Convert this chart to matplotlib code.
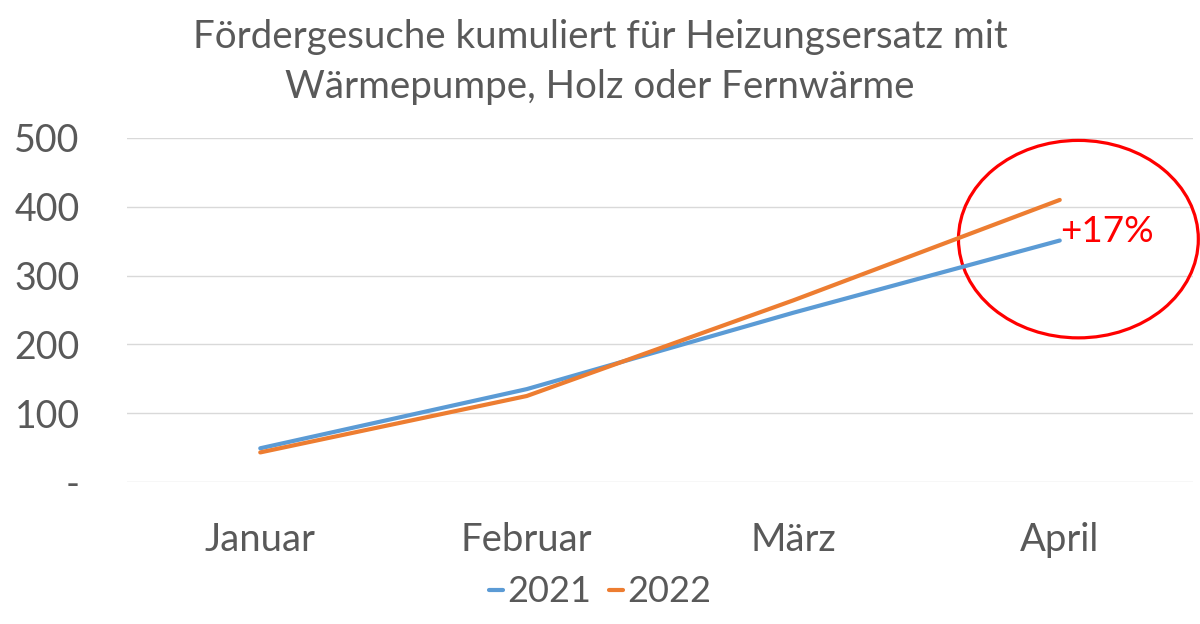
import matplotlib
matplotlib.use("Agg")
import matplotlib.pyplot as plt
from matplotlib.patches import Ellipse

months = ["Januar", "Februar", "März", "April"]
series_2021 = [49, 135, 246, 351]
series_2022 = [43, 125, 264, 410]
yticks = [0, 100, 200, 300, 400, 500]
ytick_labels = ["-", "100", "200", "300", "400", "500"]
title = "Fördergesuche kumuliert für Heizungsersatz mit\nWärmepumpe, Holz oder Fernwärme"
annotation = "+17%"

plt.rcParams['font.family'] = ['Lato', 'DejaVu Sans']
gray = "#595959"

fig = plt.figure(figsize=(12, 6.24), dpi=100)
ax = fig.add_axes([127/1200, 1-482/624, (1193-127)/1200, (482-138)/624])

x = list(range(len(months)))
ax.plot(x, series_2021, color="#5B9BD5", lw=3.0, label="2021", solid_capstyle="round")
ax.plot(x, series_2022, color="#ED7D31", lw=3.0, label="2022", solid_capstyle="round")

ax.set_xlim(-0.5, 3.5)
ax.set_ylim(0, 500)
ax.set_yticks(yticks)
ax.set_yticklabels(ytick_labels)
ax.set_xticks(x)
ax.set_xticklabels(months)
ax.tick_params(axis='y', length=0, pad=34, labelsize=27, labelcolor=gray)
ax.tick_params(axis='x', length=0, pad=29, labelsize=27.5, labelcolor=gray)
for s in ax.spines.values():
    s.set_visible(False)
ax.grid(axis='y', color="#D9D9D9", lw=1)
ax.set_axisbelow(True)

fig.text(0.5, 1-62/624, title, ha='center', va='center', fontsize=27.7,
         color=gray, linespacing=1.5)

ell = Ellipse((3.07, 353), width=0.90, height=287, fill=False, edgecolor="#FF0000",
              lw=2.3, clip_on=False)
ax.add_patch(ell)
ax.text(3.0, 364, annotation, color="#FF0000", fontsize=26.5, ha='left', va='center')

leg = fig.legend(loc='center', bbox_to_anchor=(0.5, 1-592/624), ncol=2, frameon=False,
                 fontsize=26, handlelength=0.4, handletextpad=0.1, columnspacing=0.5,
                 labelcolor=gray)

fig.savefig("out.png", dpi=100)
